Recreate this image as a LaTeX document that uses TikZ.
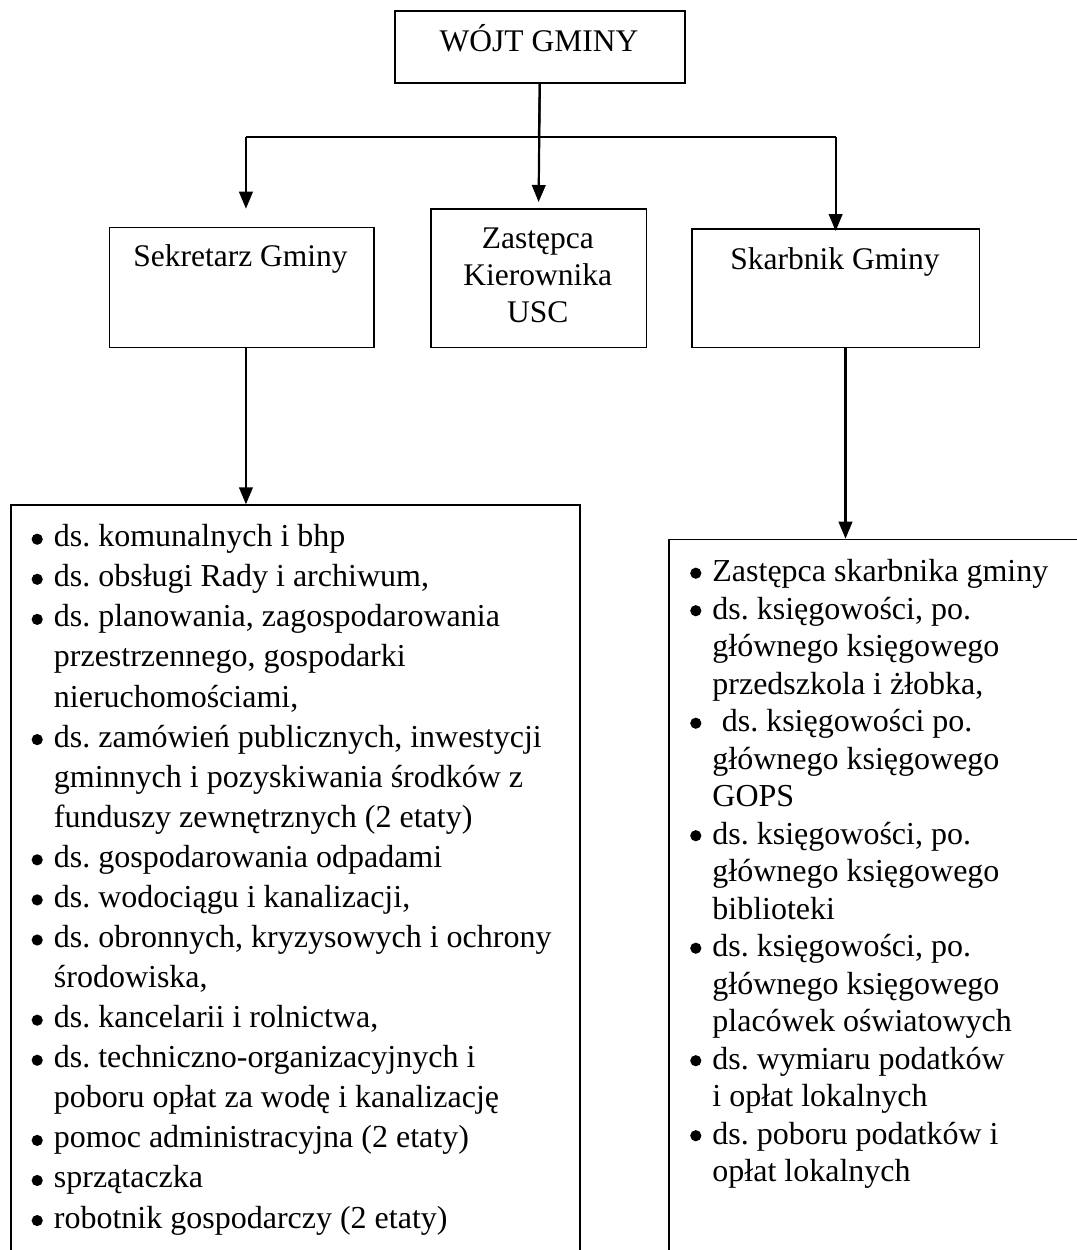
\documentclass[tikz,border=0pt]{standalone}
\usepackage{fontspec}
\setmainfont{Liberation Serif}
\usetikzlibrary{arrows.meta}
\begin{document}
\frenchspacing
\begin{tikzpicture}[x=0.5pt,y=-0.5pt,
  box/.style={draw=black,line width=0.8pt,rectangle,inner sep=0pt,anchor=north west},
  title/.style={anchor=base,inner sep=0pt,font=\fontsize{15.75}{18.5}\selectfont},
  litem/.style={anchor=base west,inner sep=0pt,font=\fontsize{16}{20}\selectfont},
  ritem/.style={anchor=base west,inner sep=0pt,font=\fontsize{16}{19}\selectfont},
  dot/.style={circle,fill=black,inner sep=0pt,minimum size=5.6pt},
  arr/.style={line width=1.1pt,-{Triangle[length=8.5pt,width=6.8pt]}},
  ln/.style={line width=1.1pt}]
\useasboundingbox (0,0) rectangle (1077,1250);
\clip (0,0) rectangle (1077,1250);
\fill[white] (0,0) rectangle (1077,1250);

% top box
\node[box,minimum width=145pt,minimum height=36pt] (wojt) at (394,10) {};
\node[title] (wojtT) at (539,51.7) {WÓJT GMINY};

% second row boxes
\node[box,minimum width=132.25pt,minimum height=60pt] (sek) at (108.5,226.7) {};
\node[title] (sekT) at (240.5,266.7) {Sekretarz Gminy};

\node[box,minimum width=107.8pt,minimum height=69.35pt] (zas) at (430,208) {};
\node[title] (zasT1) at (537.8,248.3) {Zastępca};
\node[title] (zasT2) at (537.8,285) {Kierownika};
\node[title] (zasT3) at (537.8,322) {USC};

\node[box,minimum width=143.85pt,minimum height=59.35pt] (ska) at (691,228) {};
\node[title] (skaT) at (835,269.3) {Skarbnik Gminy};

% bottom boxes (extend beyond the page)
\node[box,minimum width=284.6pt,minimum height=400pt] (lbox) at (10,504.3) {};
\node[box,minimum width=250pt,minimum height=400pt] (rbox) at (668.3,538.7) {};

% connectors
\coordinate (jn) at (539,136.7);
\draw[ln] (wojt.south) -- (jn);
\draw[ln] ([xshift=2.2pt]jn -| sek.north) -- (jn -| ska.north);
\draw[arr] (wojt.south) -- ([yshift=3pt]zas.north);
\draw[arr] ([xshift=2.2pt]jn -| sek.north) -- ([xshift=2.2pt,yshift=9pt]sek.north);
\draw[arr] (jn -| ska.north) -- ([yshift=-1.5pt]ska.north);
\draw[arr] ([xshift=2.2pt]sek.south) -- ([xshift=2.2pt]sek.south |- lbox.north);
\coordinate (sk) at (845.5,346.7);
\draw[arr] (sk) -- (sk |- rbox.north);

% left list
\foreach \i/\b/\t in {
 0/1/{ds. komunalnych i bhp},
 1/1/{ds. obsługi Rady i archiwum,},
 2/1/{ds. planowania, zagospodarowania},
 3/0/{przestrzennego, gospodarki},
 4/0/{nieruchomościami,},
 5/1/{ds. zamówień publicznych, inwestycji},
 6/0/{gminnych i pozyskiwania środków z},
 7/0/{funduszy zewnętrznych (2 etaty)},
 8/1/{ds. gospodarowania odpadami},
 9/1/{ds. wodociągu i kanalizacji,},
 10/1/{ds. obronnych, kryzysowych i ochrony},
 11/0/{środowiska,},
 12/1/{ds. kancelarii i rolnictwa,},
 13/1/{ds. techniczno-organizacyjnych i},
 14/0/{poboru opłat za wodę i kanalizację},
 15/1/{pomoc administracyjna (2 etaty)},
 16/1/{sprzątaczka},
 17/1/{robotnik gospodarczy (2 etaty)}}{
  \pgfmathsetmacro{\yy}{546.7+40.08*\i}
  \node[litem] (L\i) at (53.5,\yy) {\t};
  \ifnum\b=1 \node[dot] (LB\i) at (37.2,\yy-7.5) {};\fi
}

% right list
\foreach \i/\b/\xo/\t in {
 0/1/0/{Zastępca skarbnika gminy},
 1/1/0/{ds. księgowości, po.},
 2/0/0/{głównego księgowego},
 3/0/0/{przedszkola i żłobka,},
 4/1/9.4/{ds. księgowości po.},
 5/0/0/{głównego księgowego},
 6/0/0/{GOPS},
 7/1/0/{ds. księgowości, po.},
 8/0/0/{głównego księgowego},
 9/0/0/{biblioteki},
 10/1/0/{ds. księgowości, po.},
 11/0/0/{głównego księgowego},
 12/0/0/{placówek oświatowych},
 13/1/0/{ds. wymiaru podatków},
 14/0/0/{i opłat lokalnych},
 15/1/0/{ds. poboru podatków i},
 16/0/0/{opłat lokalnych}}{
  \pgfmathsetmacro{\yy}{581.7+37.5*\i}
  \pgfmathsetmacro{\xx}{712+\xo}
  \node[ritem] (R\i) at (\xx,\yy) {\t};
  \ifnum\b=1 \node[dot] (RB\i) at (695.8,\yy-8.5) {};\fi
}
\end{tikzpicture}
\end{document}
